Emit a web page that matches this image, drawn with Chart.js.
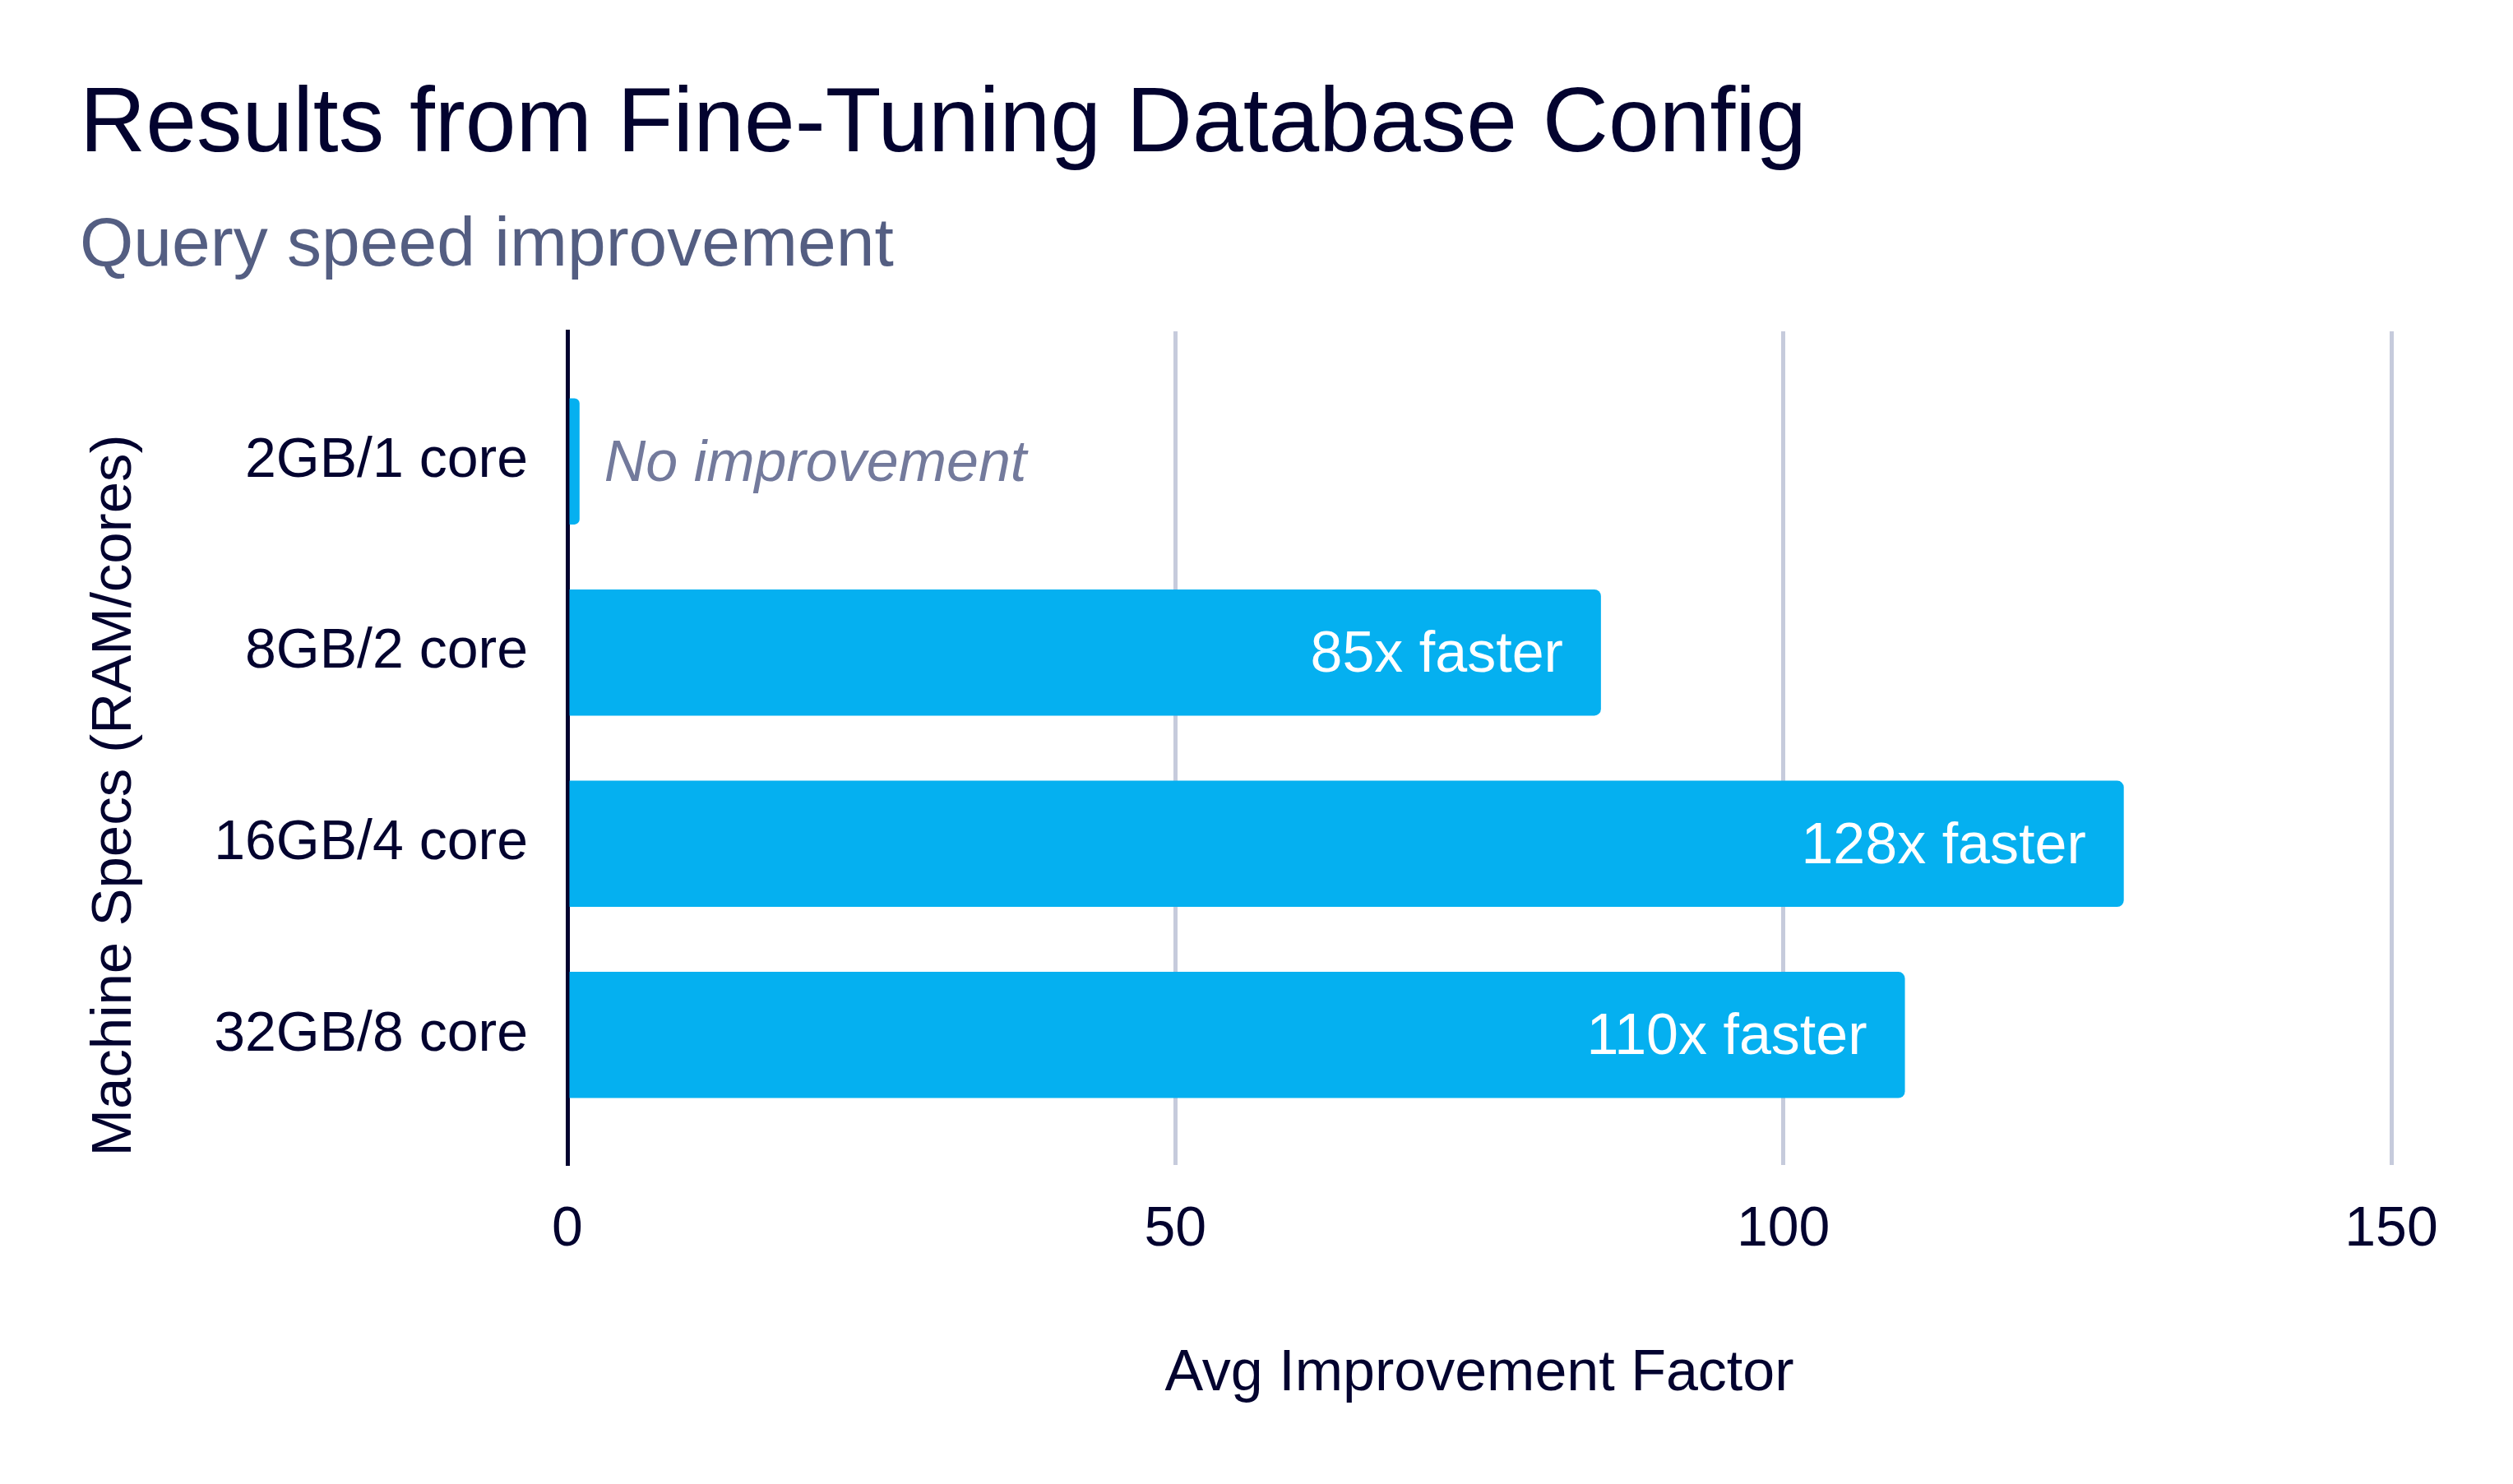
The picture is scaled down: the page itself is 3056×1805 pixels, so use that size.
<!DOCTYPE html>
<html>
<head>
<meta charset="utf-8">
<title>Results from Fine-Tuning Database Config</title>
<script src="https://cdn.jsdelivr.net/npm/chart.js@4.4.1/dist/chart.umd.min.js"></script>
<style>
  html, body { margin: 0; padding: 0; background: #ffffff; }
  #wrap { width: 3056px; height: 1805px; }
</style>
</head>
<body>
<div id="wrap"><canvas id="chart"></canvas></div>
<script>
// Data
const categories = ['2GB/1 core', '8GB/2 core', '16GB/4 core', '32GB/8 core'];
const improvement = [1, 85, 128, 110];
const barLabels = ['No improvement', '85x faster', '128x faster', '110x faster'];
const xTicks = [0, 50, 100, 150];

// Colors
const navy = '#03032f';
const slate = '#545e82';
const grey = '#737a9c';
const blue = '#05b0f0';
const gridColor = '#c6cbdc';

Chart.defaults.font.family = "'Liberation Sans', Arial, Helvetica, sans-serif";
Chart.defaults.color = navy;

// Labels on / next to the bars
const barLabelPlugin = {
    id: 'barLabels',
    afterDatasetsDraw(chart) {
        const ctx = chart.ctx;
        const meta = chart.getDatasetMeta(0);
        ctx.save();
        ctx.textBaseline = 'middle';
        meta.data.forEach((bar, i) => {
            const text = barLabels[i];
            const width = bar.x - bar.base;
            ctx.font = '70px ' + Chart.defaults.font.family;
            const tw = ctx.measureText(text).width;
            if (width > tw + 96) {
                ctx.fillStyle = '#ffffff';
                ctx.textAlign = 'right';
                ctx.fillText(text, bar.x - 46, bar.y + 4);
            } else {
                ctx.font = 'italic 70px ' + Chart.defaults.font.family;
                ctx.fillStyle = grey;
                ctx.textAlign = 'left';
                ctx.fillText(text, bar.x + 30, bar.y + 4);
            }
        });
        ctx.restore();
    }
};

const ctx = document.getElementById('chart').getContext('2d');
new Chart(ctx, {
    type: 'bar',
    data: {
        datasets: [{
            label: 'Avg Improvement Factor',
            data: improvement.map((v, i) => ({ x: v, y: i })),
            backgroundColor: blue,
            borderWidth: 0,
            borderRadius: 8,
            borderSkipped: 'start',
            barPercentage: 0.66,
            categoryPercentage: 1
        }]
    },
    plugins: [barLabelPlugin],
    options: {
        indexAxis: 'y',
        responsive: true,
        maintainAspectRatio: false,
        devicePixelRatio: 1,
        animation: false,
        layout: { padding: { top: 0, left: 97, right: 148, bottom: 0 } },
        plugins: {
            legend: { display: false },
            tooltip: { enabled: false },
            title: {
                display: true,
                text: 'Results from Fine-Tuning Database Config',
                align: 'start',
                color: navy,
                font: { size: 111, weight: 'normal', lineHeight: 1.2 },
                padding: { top: 87, bottom: 0 }
            },
            subtitle: {
                display: true,
                text: 'Query speed improvement',
                align: 'start',
                color: slate,
                font: { size: 84, weight: 'normal', lineHeight: 1.2 },
                padding: { top: 29, bottom: 53 }
            }
        },
        scales: {
            x: {
                type: 'linear',
                min: 0,
                max: 150,
                afterBuildTicks: (scale) => { scale.ticks = xTicks.map(v => ({ value: v })); },
                afterFit: (scale) => { scale.height = 388; },
                grid: {
                    color: (c) => c.tick && c.tick.value === 0 ? 'rgba(0,0,0,0)' : gridColor,
                    lineWidth: 5,
                    drawTicks: false
                },
                border: { display: false },
                ticks: { color: navy, font: { size: 68 }, padding: 38 },
                title: {
                    display: true,
                    text: 'Avg Improvement Factor',
                    color: navy,
                    font: { size: 70 },
                    padding: { top: 0, bottom: 91 }
                }
            },
            y: {
                type: 'linear',
                reverse: true,
                offset: false,
                bounds: 'data',
                min: -0.68,
                max: 3.68,
                afterBuildTicks: (scale) => {
                    scale.ticks = categories.map((c, i) => ({ value: i }));
                    scale.min = -0.68;
                    scale.max = 3.68;
                },
                afterFit: (scale) => { scale.width = 593; },
                grid: { display: false },
                border: { display: true, color: navy, width: 5 },
                ticks: {
                    color: navy,
                    font: { size: 68 },
                    padding: 40,
                    callback: (v) => categories[v]
                },
                title: {
                    display: true,
                    text: 'Machine Specs (RAM/cores)      ',
                    color: navy,
                    font: { size: 69 },
                    padding: { top: 2, bottom: 0 }
                }
            }
        }
    }
});
</script>
</body>
</html>
